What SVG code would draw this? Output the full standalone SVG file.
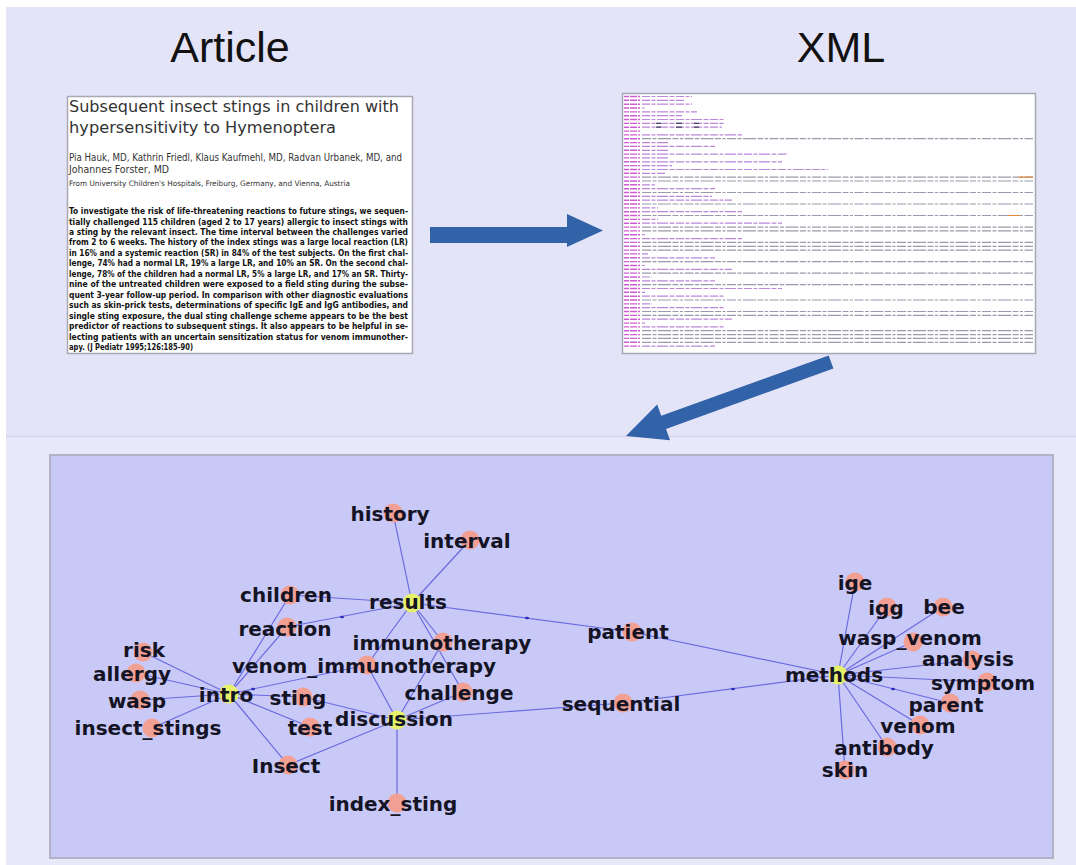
<svg xmlns="http://www.w3.org/2000/svg" width="1076" height="865" viewBox="0 0 1076 865">
  <defs>
    <style>
      .title { font-family: "Liberation Sans", Arial, sans-serif; font-size: 43px; fill: #111; text-anchor: middle; }
      .art-head { font-family: "DejaVu Sans", "Liberation Sans", sans-serif; fill: #333; }
      .art-body { font-family: "DejaVu Sans", "Liberation Sans", sans-serif; font-weight: bold; font-size: 9px; fill: #111; }
      .flow { fill: #3262a8; }
      .edge { stroke: #6a6ae0; stroke-width: 1.2; fill: none; }
      .tip { fill: #2c2cc0; }
      .term circle { fill: #f2a094; }
      .hub circle { fill: #e6f06a; }
      .node text { font-family: "DejaVu Sans", "Liberation Sans", sans-serif; font-weight: bold; font-size: 20px; fill: #141424; text-anchor: middle; }
    </style>
  </defs>

  <!-- page background -->
  <rect x="0" y="0" width="1076" height="865" fill="#ffffff"/>
  <rect x="6" y="7" width="1070" height="429" fill="#e4e4f8"/>
  <rect x="6" y="436" width="1070" height="429" fill="#e8e8f9"/>
  <line x1="6" y1="436.5" x2="1076" y2="436.5" stroke="#d2d2ec" stroke-width="1.5"/>

  <!-- column titles -->
  <text class="title" x="230" y="62">Article</text>
  <text class="title" x="841" y="62">XML</text>

  <!-- article page -->
  <g id="article">
    <rect x="67.5" y="96.5" width="345" height="257" fill="#ffffff" stroke="#a8a8b4" stroke-width="1.5"/>
    <text class="art-head" x="69" y="112" font-size="16.5" textLength="330" lengthAdjust="spacingAndGlyphs">Subsequent insect stings in children with</text>
    <text class="art-head" x="69" y="133" font-size="16.5" textLength="267" lengthAdjust="spacingAndGlyphs">hypersensitivity to Hymenoptera</text>
    <text class="art-head" x="69" y="161" font-size="10" fill="#444" textLength="333" lengthAdjust="spacingAndGlyphs">Pia Hauk, MD, Kathrin Friedl, Klaus Kaufmehl, MD, Radvan Urbanek, MD, and</text>
    <text class="art-head" x="69" y="173" font-size="10" fill="#444" textLength="100" lengthAdjust="spacingAndGlyphs">Johannes Forster, MD</text>
    <text class="art-head" x="69" y="186" font-size="7.5" fill="#444" textLength="281" lengthAdjust="spacingAndGlyphs">From University Children's Hospitals, Freiburg, Germany, and Vienna, Austria</text>
    <g class="art-body">
      <text x="69" y="214" textLength="339" lengthAdjust="spacingAndGlyphs">To investigate the risk of life-threatening reactions to future stings, we sequen-</text>
      <text x="69" y="224.5" textLength="339" lengthAdjust="spacingAndGlyphs">tially challenged 115 children (aged 2 to 17 years) allergic to insect stings with</text>
      <text x="69" y="234.9" textLength="339" lengthAdjust="spacingAndGlyphs">a sting by the relevant insect. The time interval between the challenges varied</text>
      <text x="69" y="245.4" textLength="339" lengthAdjust="spacingAndGlyphs">from 2 to 6 weeks. The history of the index stings was a large local reaction (LR)</text>
      <text x="69" y="255.8" textLength="339" lengthAdjust="spacingAndGlyphs">in 16% and a systemic reaction (SR) in 84% of the test subjects. On the first chal-</text>
      <text x="69" y="266.3" textLength="339" lengthAdjust="spacingAndGlyphs">lenge, 74% had a normal LR, 19% a large LR, and 10% an SR. On the second chal-</text>
      <text x="69" y="276.8" textLength="339" lengthAdjust="spacingAndGlyphs">lenge, 78% of the children had a normal LR, 5% a large LR, and 17% an SR. Thirty-</text>
      <text x="69" y="287.2" textLength="339" lengthAdjust="spacingAndGlyphs">nine of the untreated children were exposed to a field sting during the subse-</text>
      <text x="69" y="297.7" textLength="339" lengthAdjust="spacingAndGlyphs">quent 3-year follow-up period. In comparison with other diagnostic evaluations</text>
      <text x="69" y="308.1" textLength="339" lengthAdjust="spacingAndGlyphs">such as skin-prick tests, determinations of specific IgE and IgG antibodies, and</text>
      <text x="69" y="318.6" textLength="339" lengthAdjust="spacingAndGlyphs">single sting exposure, the dual sting challenge scheme appears to be the best</text>
      <text x="69" y="329.1" textLength="339" lengthAdjust="spacingAndGlyphs">predictor of reactions to subsequent stings. It also appears to be helpful in se-</text>
      <text x="69" y="339.5" textLength="339" lengthAdjust="spacingAndGlyphs">lecting patients with an uncertain sensitization status for venom immunother-</text>
      <text x="69" y="350" textLength="124" lengthAdjust="spacingAndGlyphs">apy. (J Pediatr 1995;126:185-90)</text>
    </g>
  </g>

  <!-- XML listing, rendered as a thumbnail texture of tag and text rows -->
  <g id="xml">
    <rect x="622.5" y="93.5" width="413" height="260" fill="#ffffff" stroke="#a8a8b4" stroke-width="1.5"/>
    <path stroke="#cf5ccf" stroke-width="1.4" fill="none" stroke-dasharray="5 1 7 1"
      d="M624 96.5H640 M624 100.3H640 M624 104.2H640 M624 108H640 M624 111.9H640 M624 115.7H640 M624 119.5H640 M624 123.4H640 M624 127.2H640 M624 131.1H640 M624 134.9H640 M624 138.7H640 M624 142.6H640 M624 146.4H640 M624 150.3H640 M624 154.1H640 M624 157.9H640 M624 161.8H640 M624 165.6H640 M624 169.5H640 M624 173.3H640 M624 177.1H640 M624 181H640 M624 184.8H640 M624 188.7H640 M624 192.5H640 M624 196.3H640 M624 200.2H640 M624 204H640 M624 207.9H640 M624 211.7H640 M624 215.5H640 M624 219.4H640 M624 223.2H640 M624 227.1H640 M624 230.9H640 M624 234.7H640 M624 238.6H640 M624 242.4H640 M624 246.3H640 M624 250.1H640 M624 253.9H640 M624 257.8H640 M624 261.6H640 M624 265.5H640 M624 269.3H640 M624 273.1H640 M624 277H640 M624 280.8H640 M624 284.7H640 M624 288.5H640 M624 292.3H640 M624 296.2H640 M624 300H640 M624 303.9H640 M624 307.7H640 M624 311.5H640 M624 315.4H640 M624 319.2H640 M624 323.1H640 M624 326.9H640 M624 330.7H640 M624 334.6H640 M624 338.4H640 M624 342.3H640 M624 346.1H640"/>
    <path stroke="#bb88d8" stroke-width="1.2" fill="none" stroke-dasharray="8 1.5 4 1.5 11 1.5 5 1.5"
      d="M642 96.5H692 M642 100.3H685 M642 104.2H692 M642 108H645 M642 111.9H697 M642 115.7H682 M642 119.5H725 M642 123.4H725 M642 127.2H722 M642 131.1H642 M642 134.9H742 M642 142.6H668 M642 146.4H715 M642 150.3H668 M642 154.1H788 M642 157.9H668 M642 161.8H782 M642 165.6H672 M642 169.5H828 M642 173.3H665 M642 184.8H655 M642 188.7H715 M642 196.3H712 M642 200.2H732 M642 207.9H658 M642 211.7H742 M642 219.4H658 M642 223.2H782 M642 234.7H645 M642 238.6H742 M642 253.9H648 M642 257.8H715 M642 265.5H645 M642 269.3H732 M642 277H652 M642 280.8H715 M642 288.5H782 M642 292.3H645 M642 296.2H725 M642 303.9H652 M642 307.7H725 M642 319.2H732 M642 323.1H645 M642 326.9H725 M642 346.1H715"/>
    <path stroke="#9a9aac" stroke-width="1.2" fill="none" stroke-dasharray="9 1.5 4 1.5 13 1.5 6 1.5 3 1.5"
      d="M642 138.7H1033 M642 177.1H1033 M642 181H1033 M642 192.5H1033 M642 204H1033 M642 215.5H1033 M642 227.1H1033 M642 230.9H1033 M642 242.4H1033 M642 246.3H1033 M642 250.1H1033 M642 261.6H1033 M642 273.1H1033 M642 284.7H1033 M642 300H1033 M642 311.5H1033 M642 315.4H1033 M642 330.7H1033 M642 334.6H1033 M642 338.4H1033 M642 342.3H1033"/>
    <path stroke="#444466" stroke-width="1.3" fill="none" d="M656 123.4H661 M676 123.4H682 M694 123.4H699 M656 127.2H661 M676 127.2H682 M694 127.2H699"/>
    <path stroke="#e08840" stroke-width="1.2" fill="none" d="M1018 177.1H1033 M1008 215.5H1020"/>
  </g>

  <!-- flow arrows between the stages -->
  <g id="flow-arrows">
    <polygon class="flow" points="430,227 567,227 567,214 603,230.5 567,247 567,243 430,243"/>
    <polygon class="flow" points="-218,-7 -40,-7 -40,-19 0,0 -40,19 -40,7 -218,7" transform="translate(626,436) rotate(160.15)"/>
  </g>

  <!-- graph panel -->
  <rect x="50" y="455" width="1003" height="403" fill="#c9c9f8" stroke="#b2b2c6" stroke-width="2"/>

  <g id="connectors">
    <line class="edge" x1="412" y1="603" x2="393" y2="513"/>
    <line class="edge" x1="412" y1="603" x2="470" y2="540"/>
    <line class="edge" x1="412" y1="603" x2="290" y2="595"/>
    <line class="edge" x1="412" y1="603" x2="287" y2="627"/>
    <line class="edge" x1="412" y1="603" x2="367" y2="665"/>
    <line class="edge" x1="412" y1="603" x2="443" y2="642"/>
    <line class="edge" x1="412" y1="603" x2="463" y2="692"/>
    <line class="edge" x1="412" y1="603" x2="632" y2="632"/>
    <line class="edge" x1="443" y1="642" x2="397" y2="720"/>
    <line class="edge" x1="367" y1="665" x2="397" y2="720"/>
    <line class="edge" x1="367" y1="665" x2="229" y2="694"/>
    <line class="edge" x1="229" y1="694" x2="290" y2="595"/>
    <line class="edge" x1="229" y1="694" x2="287" y2="627"/>
    <line class="edge" x1="229" y1="694" x2="143" y2="652"/>
    <line class="edge" x1="229" y1="694" x2="136" y2="673"/>
    <line class="edge" x1="229" y1="694" x2="140" y2="700"/>
    <line class="edge" x1="229" y1="694" x2="152" y2="728"/>
    <line class="edge" x1="229" y1="694" x2="303" y2="697"/>
    <line class="edge" x1="229" y1="694" x2="310" y2="727"/>
    <line class="edge" x1="229" y1="694" x2="288" y2="765"/>
    <line class="edge" x1="303" y1="697" x2="397" y2="720"/>
    <line class="edge" x1="397" y1="720" x2="463" y2="692"/>
    <line class="edge" x1="397" y1="720" x2="288" y2="765"/>
    <line class="edge" x1="397" y1="720" x2="397" y2="803"/>
    <line class="edge" x1="397" y1="720" x2="623" y2="703"/>
    <line class="edge" x1="623" y1="703" x2="838" y2="675"/>
    <line class="edge" x1="632" y1="632" x2="838" y2="675"/>
    <line class="edge" x1="838" y1="675" x2="855" y2="582"/>
    <line class="edge" x1="838" y1="675" x2="887" y2="607"/>
    <line class="edge" x1="838" y1="675" x2="943" y2="607"/>
    <line class="edge" x1="838" y1="675" x2="913" y2="642"/>
    <line class="edge" x1="838" y1="675" x2="972" y2="660"/>
    <line class="edge" x1="838" y1="675" x2="987" y2="682"/>
    <line class="edge" x1="838" y1="675" x2="950" y2="703"/>
    <line class="edge" x1="838" y1="675" x2="920" y2="725"/>
    <line class="edge" x1="838" y1="675" x2="887" y2="747"/>
    <line class="edge" x1="838" y1="675" x2="845" y2="770"/>
    <!-- small direction tips along some edges -->
    <ellipse class="tip" cx="342" cy="617" rx="2" ry="1.3"/>
    <ellipse class="tip" cx="527" cy="618" rx="2" ry="1.3"/>
    <ellipse class="tip" cx="253" cy="689" rx="2" ry="1.3"/>
    <ellipse class="tip" cx="733" cy="689" rx="2" ry="1.3"/>
    <ellipse class="tip" cx="893" cy="689" rx="2" ry="1.3"/>
  </g>

  <g id="nodes">
    <g id="node-history" class="node term"><circle cx="393" cy="513" r="9.5"/><text x="390" y="521">history</text></g>
    <g id="node-interval" class="node term"><circle cx="470" cy="540" r="9.5"/><text x="467" y="548">interval</text></g>
    <g id="node-children" class="node term"><circle cx="290" cy="595" r="9.5"/><text x="286" y="602">children</text></g>
    <g id="node-reaction" class="node term"><circle cx="287" cy="627" r="9.5"/><text x="285" y="636">reaction</text></g>
    <g id="node-immunotherapy" class="node term"><circle cx="443" cy="642" r="9.5"/><text x="442" y="650">immunotherapy</text></g>
    <g id="node-venom_immunotherapy" class="node term"><circle cx="367" cy="665" r="9.5"/><text x="364" y="673">venom_immunotherapy</text></g>
    <g id="node-risk" class="node term"><circle cx="143" cy="652" r="9.5"/><text x="144" y="657">risk</text></g>
    <g id="node-allergy" class="node term"><circle cx="136" cy="673" r="9.5"/><text x="132" y="681">allergy</text></g>
    <g id="node-wasp" class="node term"><circle cx="140" cy="700" r="9.5"/><text x="137" y="708">wasp</text></g>
    <g id="node-insect_stings" class="node term"><circle cx="152" cy="728" r="9.5"/><text x="148" y="735">insect_stings</text></g>
    <g id="node-sting" class="node term"><circle cx="303" cy="697" r="9.5"/><text x="298" y="705">sting</text></g>
    <g id="node-test" class="node term"><circle cx="310" cy="727" r="9.5"/><text x="310" y="735">test</text></g>
    <g id="node-challenge" class="node term"><circle cx="463" cy="692" r="9.5"/><text x="459" y="700">challenge</text></g>
    <g id="node-insect" class="node term"><circle cx="288" cy="765" r="9.5"/><text x="286" y="773">Insect</text></g>
    <g id="node-index_sting" class="node term"><circle cx="397" cy="803" r="9.5"/><text x="393" y="811">index_sting</text></g>
    <g id="node-patient" class="node term"><circle cx="632" cy="632" r="9.5"/><text x="628" y="639">patient</text></g>
    <g id="node-sequential" class="node term"><circle cx="623" cy="703" r="9.5"/><text x="621" y="711">sequential</text></g>
    <g id="node-ige" class="node term"><circle cx="855" cy="582" r="9.5"/><text x="855" y="590">ige</text></g>
    <g id="node-igg" class="node term"><circle cx="887" cy="607" r="9.5"/><text x="886" y="615">igg</text></g>
    <g id="node-bee" class="node term"><circle cx="943" cy="607" r="9.5"/><text x="944" y="614">bee</text></g>
    <g id="node-wasp_venom" class="node term"><circle cx="913" cy="642" r="9.5"/><text x="910" y="645">wasp_venom</text></g>
    <g id="node-analysis" class="node term"><circle cx="972" cy="660" r="9.5"/><text x="968" y="666">analysis</text></g>
    <g id="node-symptom" class="node term"><circle cx="987" cy="682" r="9.5"/><text x="983" y="690">symptom</text></g>
    <g id="node-parent" class="node term"><circle cx="950" cy="703" r="9.5"/><text x="946" y="712">parent</text></g>
    <g id="node-venom" class="node term"><circle cx="920" cy="725" r="9.5"/><text x="918" y="733">venom</text></g>
    <g id="node-antibody" class="node term"><circle cx="887" cy="747" r="9.5"/><text x="884" y="755">antibody</text></g>
    <g id="node-skin" class="node term"><circle cx="845" cy="770" r="9.5"/><text x="845" y="777">skin</text></g>
    <g id="node-results" class="node hub"><circle cx="412" cy="603" r="9.5"/><text x="408" y="609">results</text></g>
    <g id="node-intro" class="node hub"><circle cx="229" cy="694" r="9.5"/><text x="226" y="702">intro</text></g>
    <g id="node-discussion" class="node hub"><circle cx="397" cy="720" r="9.5"/><text x="394" y="726">discussion</text></g>
    <g id="node-methods" class="node hub"><circle cx="838" cy="675" r="9.5"/><text x="834" y="682">methods</text></g>
  </g>
</svg>
